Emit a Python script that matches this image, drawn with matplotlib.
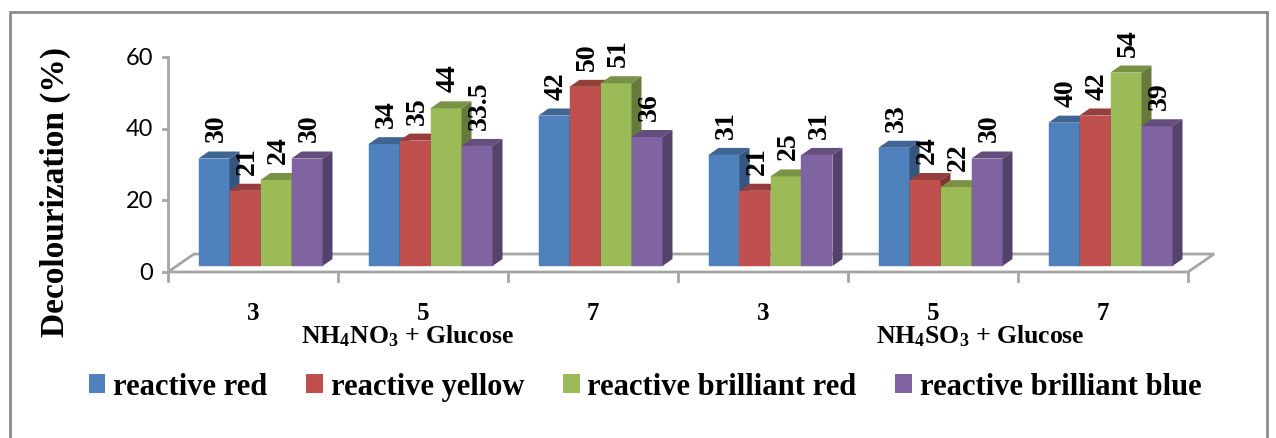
import matplotlib.pyplot as plt
from matplotlib.patches import Polygon, Rectangle, Patch

# bold Times-like font for the subscripts in the group titles
plt.rcParams['mathtext.fontset'] = 'custom'
plt.rcParams['mathtext.rm'] = 'Liberation Serif:bold'
plt.rcParams['mathtext.it'] = 'Liberation Serif:bold'
plt.rcParams['mathtext.bf'] = 'Liberation Serif:bold'

categories = ['3', '5', '7', '3', '5', '7']
group_titles = ['NH$_4$NO$_3$ + Glucose', 'NH$_4$SO$_3$ + Glucose']
series = ['reactive red', 'reactive yellow', 'reactive brilliant red', 'reactive brilliant blue']
reactive_red = [30, 34, 42, 31, 33, 40]
reactive_yellow = [21, 35, 50, 21, 24, 42]
reactive_brilliant_red = [24, 44, 51, 25, 22, 54]
reactive_brilliant_blue = [30, 33.5, 36, 31, 30, 39]
y_ticks = [0, 20, 40, 60]

values = [reactive_red, reactive_yellow, reactive_brilliant_red, reactive_brilliant_blue]
colors = ['#4F81BD', '#C0504D', '#9BBB59', '#8064A2']
serif = 'Liberation Serif'


def shade(hex_color, f):
    r, g, b = (int(hex_color[k:k + 2], 16) / 255 for k in (1, 3, 5))
    return (r * f, g * f, b * f)


W, H, DPI = 1276, 439, 100
fig = plt.figure(figsize=(W / DPI, H / DPI), dpi=DPI)

# plot area (front plane) in pixels
left_px, right_px, base_px, top_px = 168, 1188, 273, 58
ax = fig.add_axes([left_px / W, (H - base_px) / H,
                   (right_px - left_px) / W, (base_px - top_px) / H])
ax.set_xlim(0, len(categories))
ax.set_ylim(0, 60)
ax.axis('off')

sx = (right_px - left_px) / len(categories)   # pixels per category
sy = (base_px - top_px) / 60                   # pixels per percent


def px(dx, dy):
    """pixel offset -> data offset"""
    return dx / sx, dy / sy


grid_col = '#A6A6A6'

# floor of the 3d box
fdx, fdy = px(26, 18)
n = len(categories)
floor = Polygon([(0, 0), (n, 0), (n + fdx, fdy), (fdx, fdy)], closed=True,
                facecolor='white', edgecolor=grid_col, lw=2, zorder=1, clip_on=False)
ax.add_patch(floor)

# y axis with ticks
tick_x, _ = px(5, 0)
ax.plot([0, 0], [0, 60], color=grid_col, lw=2, zorder=2, clip_on=False)
for t in y_ticks:
    ax.plot([-tick_x, 0], [t, t], color=grid_col, lw=2, zorder=2, clip_on=False)
    ax.text(-tick_x - px(10, 0)[0], t, str(t), ha='right', va='center',
            fontsize=17, family='Lato', color='black')

# x ticks and category labels
_, tick_y = px(0, 9)
for i in range(n + 1):
    ax.plot([i, i], [0, -tick_y], color=grid_col, lw=2, zorder=2, clip_on=False)
for i, c in enumerate(categories):
    ax.text(i + 0.5, -px(0, 40)[1], c, ha='center', va='center',
            fontsize=18, fontweight='bold', family=serif)

for xc, title in zip([1.406, 4.78], group_titles):
    ax.text(xc, -px(0, 70)[1], title, ha='center', va='baseline',
            fontsize=18.5, fontweight='bold', family=serif)

# bars: front face, top and side, shifted to the middle of the floor depth
bw = px(31, 0)[0]
ox, oy = px(7.5, 6)
bdx, bdy = px(10, 7)
lab_dx, _ = px(2.5, 0)
_, lab_gap = px(0, 10)

for j, vals in enumerate(values):
    col = colors[j]
    for i, v in enumerate(vals):
        x0 = i + 0.5 - 2 * bw + j * bw + ox
        z = 10 + j
        ax.bar(x0, v, width=bw, bottom=oy, align='edge', color=col,
               edgecolor=col, lw=0.3, zorder=z, clip_on=False)
        top = Polygon([(x0, oy + v), (x0 + bw, oy + v),
                       (x0 + bw + bdx, oy + v + bdy), (x0 + bdx, oy + v + bdy)],
                      closed=True, facecolor=shade(col, 0.78), edgecolor='none',
                      zorder=z, clip_on=False)
        side = Polygon([(x0 + bw, oy), (x0 + bw + bdx, oy + bdy),
                        (x0 + bw + bdx, oy + v + bdy), (x0 + bw, oy + v)],
                       closed=True, facecolor=shade(col, 0.66), edgecolor='none',
                       zorder=z, clip_on=False)
        ax.add_patch(top)
        ax.add_patch(side)
        ax.text(x0 + bw / 2 + lab_dx, oy + v + bdy + lab_gap, f'{v:g}',
                rotation=90, ha='center', va='bottom', fontsize=20,
                fontweight='bold', family=serif, zorder=30)

fig.text(55 / W, 1 - 192 / H, 'Decolourization (%)', rotation=90,
         ha='center', va='center', fontsize=24, fontweight='bold', family=serif)

handles = [Patch(facecolor=c, edgecolor='none') for c in colors]
fig.legend(handles, series, loc='center', bbox_to_anchor=(645 / W, 1 - 388 / H),
           ncol=4, frameon=False, handlelength=0.55, handleheight=0.55,
           handletextpad=0.25, columnspacing=1.27,
           prop={'family': serif, 'weight': 'bold', 'size': 22})

# outer chart border
fig.add_artist(Rectangle((10 / W, -0.02), (1267 - 10) / W, (H - 13) / H + 0.02,
                         transform=fig.transFigure, fill=False,
                         edgecolor='#8C8C8C', lw=2))

fig.savefig('out.png', dpi=DPI)
